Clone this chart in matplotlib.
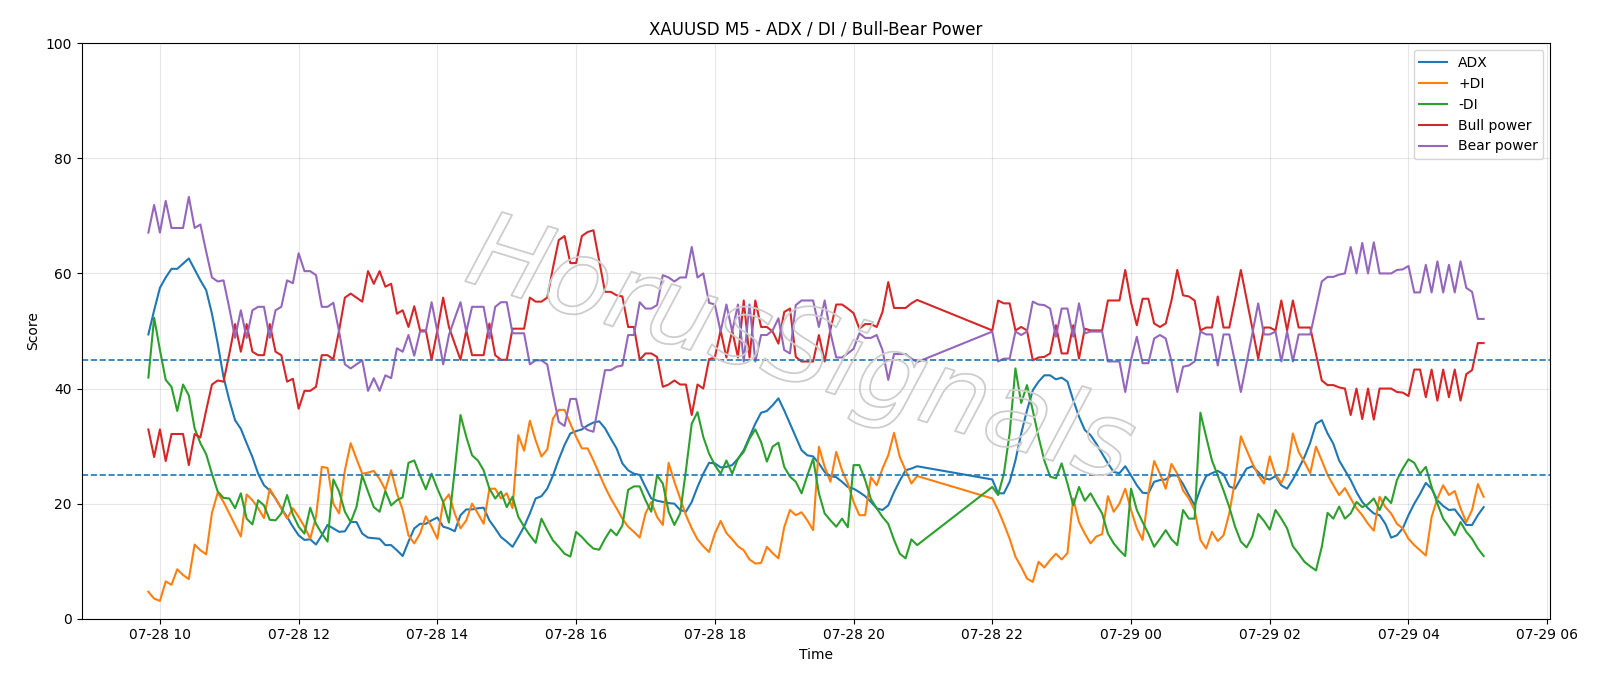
import matplotlib
matplotlib.use("Agg")
import matplotlib.pyplot as plt
import matplotlib.patheffects as pe
import pandas as pd

# two trading sessions of 5-minute bars (market break 21:00-22:00)
times_s1 = pd.date_range("2025-07-28 09:50", "2025-07-28 20:55", freq="5min")
times_s2 = pd.date_range("2025-07-28 22:00", "2025-07-29 05:05", freq="5min")

adx_s1 = [
    49.4, 53.6, 57.5, 59.3, 60.8, 60.8, 61.7, 62.6, 60.7, 58.8,
    57.1, 53.0, 47.8, 42.0, 38.0, 34.5, 33.0, 30.5, 28.1, 25.2,
    23.2, 22.3, 20.9, 19.2, 17.7, 16.0, 14.5, 13.7, 13.8, 12.9,
    14.5, 16.3, 15.7, 15.1, 15.2, 16.8, 16.8, 14.8, 14.1, 14.0,
    13.9, 12.8, 12.8, 11.9, 10.9, 13.4, 15.7, 16.5, 16.5, 17.1,
    17.6, 16.0, 15.7, 15.2, 18.0, 19.0, 19.0, 19.2, 19.3, 17.1,
    15.7, 14.2, 13.4, 12.5, 14.2, 16.0, 18.3, 20.9, 21.3, 22.6,
    24.9, 27.7, 30.2, 32.2, 32.6, 32.9, 33.6, 34.1, 34.3, 33.1,
    31.3, 29.6, 27.0, 25.8, 25.2, 25.0, 22.9, 20.9, 20.5, 20.3,
    20.1, 20.0, 18.9, 18.6, 20.3, 22.9, 25.2, 27.1, 27.0, 26.3,
    26.4, 26.7, 27.8, 29.3, 31.6, 33.9, 35.8, 36.1, 37.1, 38.3,
    36.2, 33.9, 31.6, 29.3, 28.4, 28.2, 27.0, 25.5, 24.8, 24.6,
    23.8, 22.9, 22.6, 22.0, 21.3, 20.3, 19.2, 18.9, 19.7, 22.0,
    24.0, 25.8, 26.1, 26.5,
]
adx_s2 = [
    24.2, 21.8, 21.8, 23.8, 27.5, 32.2, 36.2, 39.7, 41.2, 42.3,
    42.3, 41.6, 41.9, 41.2, 38.0, 35.1, 32.8, 31.9, 30.4, 28.7,
    27.0, 25.5, 25.3, 26.5, 24.9, 23.2, 21.9, 21.8, 23.8, 24.1,
    24.2, 24.9, 24.9, 23.4, 21.5, 19.7, 22.6, 24.8, 25.3, 25.7,
    25.1, 23.0, 22.6, 24.4, 26.1, 26.5, 25.5, 24.4, 24.2, 24.8,
    23.2, 22.6, 24.2, 26.1, 28.1, 30.6, 33.9, 34.5, 32.2, 30.4,
    27.5, 25.8, 24.1, 22.0, 20.3, 19.2, 18.3, 18.0, 16.5, 14.1,
    14.5, 15.7, 18.0, 20.0, 21.7, 23.6, 22.6, 20.6, 19.6, 18.9,
    19.0, 17.7, 16.3, 16.3, 18.0, 19.4,
]

plus_di_s1 = [
    4.7, 3.5, 3.1, 6.5, 5.9, 8.6, 7.6, 6.9, 12.9, 11.9,
    11.2, 18.4, 21.9, 20.3, 18.3, 16.3, 14.3, 21.6, 20.6, 19.2,
    17.5, 22.6, 20.9, 19.2, 17.4, 19.2, 17.7, 16.0, 13.9, 17.7,
    26.4, 26.2, 20.0, 18.3, 25.8, 30.5, 27.8, 25.2, 25.4, 25.7,
    24.3, 22.4, 25.8, 21.8, 18.9, 14.5, 13.1, 14.8, 17.8, 16.0,
    13.9, 20.3, 21.6, 18.3, 15.7, 17.1, 20.0, 18.3, 16.5, 22.6,
    22.6, 20.9, 21.8, 19.2, 31.9, 29.2, 34.4, 31.0, 28.2, 29.4,
    34.8, 36.3, 36.3, 33.9, 31.6, 29.6, 29.6, 27.5, 25.2, 22.9,
    20.9, 19.2, 17.4, 16.0, 15.1, 14.1, 18.3, 20.3, 17.7, 16.3,
    27.1, 23.8, 20.9, 18.0, 15.7, 13.8, 12.6, 11.6, 14.8, 17.0,
    14.9, 13.8, 12.6, 11.9, 10.3, 9.6, 9.7, 12.5, 11.4, 10.5,
    15.9, 18.9, 18.0, 18.5, 17.1, 15.4, 29.9, 26.4, 23.8, 29.0,
    25.8, 23.5, 20.3, 18.0, 18.0, 24.6, 23.2, 26.1, 28.4, 32.3,
    28.1, 25.8, 23.5, 24.8,
]
plus_di_s2 = [
    20.9, 18.9, 16.5, 13.9, 10.8, 9.0, 7.0, 6.4, 9.9, 8.9,
    10.2, 11.3, 10.3, 11.4, 20.9, 16.8, 14.8, 13.1, 14.3, 14.7,
    21.3, 18.6, 20.0, 22.6, 18.9, 15.7, 13.7, 21.8, 27.4, 25.2,
    22.6, 26.9, 25.2, 22.3, 20.9, 18.9, 13.7, 12.2, 15.1, 13.5,
    14.5, 18.3, 24.1, 31.7, 29.3, 27.0, 25.0, 23.5, 28.2, 25.0,
    23.6, 25.8, 32.2, 29.0, 27.2, 25.3, 29.9, 27.5, 25.0, 23.2,
    21.5, 22.7, 20.9, 19.2, 18.0, 16.5, 15.3, 21.2, 19.4, 18.3,
    16.5, 15.7, 13.9, 12.8, 11.9, 11.0, 17.7, 20.9, 23.2, 21.5,
    22.2, 19.2, 16.8, 18.9, 23.4, 21.2,
]

minus_di_s1 = [
    41.9, 52.3, 46.7, 41.5, 40.3, 36.1, 40.7, 38.8, 33.1, 30.5,
    28.6, 25.2, 22.1, 21.0, 20.9, 19.2, 21.8, 17.4, 16.4, 20.6,
    19.7, 17.2, 17.1, 18.3, 21.5, 18.1, 16.0, 14.8, 19.3, 16.5,
    14.8, 13.4, 24.2, 22.1, 18.6, 16.8, 19.4, 24.9, 22.1, 19.4,
    18.6, 22.2, 19.7, 20.6, 21.1, 27.1, 27.5, 24.9, 22.5, 25.2,
    22.6, 20.3, 16.7, 25.8, 35.4, 31.6, 28.4, 27.5, 25.8, 22.6,
    20.9, 22.1, 19.4, 21.2, 17.7, 16.0, 14.5, 13.2, 17.4, 15.4,
    13.6, 12.5, 11.3, 10.8, 15.1, 14.2, 13.1, 12.2, 12.0, 13.9,
    15.5, 14.5, 16.2, 22.4, 23.0, 23.0, 20.6, 18.6, 24.9, 23.5,
    18.6, 16.3, 18.3, 25.8, 33.9, 35.9, 31.6, 28.7, 26.7, 25.2,
    27.5, 25.2, 27.8, 29.0, 31.3, 32.9, 30.7, 27.3, 29.9, 30.6,
    26.4, 24.7, 23.8, 21.8, 24.9, 27.8, 21.8, 18.3, 17.1, 16.0,
    17.4, 15.9, 26.7, 26.7, 24.1, 20.8, 19.2, 17.7, 16.5, 13.7,
    11.3, 10.5, 13.8, 12.8,
]
minus_di_s2 = [
    22.9, 21.5, 25.2, 32.2, 43.5, 37.5, 40.6, 36.2, 31.6, 27.5,
    24.7, 24.4, 27.0, 23.5, 19.7, 22.9, 20.5, 21.8, 20.0, 18.3,
    14.8, 13.1, 11.9, 10.9, 22.6, 18.9, 16.8, 14.8, 12.5, 13.9,
    15.4, 13.8, 12.8, 18.9, 17.4, 17.4, 35.8, 31.6, 27.5, 24.9,
    22.3, 19.4, 16.0, 13.4, 12.4, 14.3, 18.2, 17.0, 15.5, 18.9,
    17.4, 15.7, 12.6, 11.3, 9.9, 9.1, 8.4, 12.5, 18.4, 17.4,
    19.5, 17.4, 18.3, 20.3, 19.4, 19.9, 20.9, 18.9, 21.2, 20.1,
    24.1, 26.1, 27.7, 27.1, 25.2, 26.4, 22.9, 20.0, 17.4, 16.0,
    14.5, 16.8, 15.1, 13.9, 12.2, 10.9,
]

bull_s1 = [
    32.9, 28.1, 32.9, 27.4, 32.1, 32.1, 32.1, 26.7, 32.1, 31.5,
    36.2, 40.7, 41.4, 41.2, 46.0, 51.2, 46.4, 51.2, 46.4, 45.8,
    45.8, 51.2, 46.4, 45.8, 41.2, 41.7, 36.5, 39.6, 39.6, 40.3,
    45.8, 45.8, 45.1, 50.1, 55.8, 56.5, 55.8, 55.1, 60.4, 58.2,
    60.4, 57.7, 58.2, 53.0, 53.6, 50.7, 54.3, 50.1, 50.1, 45.0,
    50.1, 55.8, 50.7, 47.8, 45.0, 50.1, 45.8, 45.8, 45.8, 51.3,
    45.8, 45.0, 45.0, 50.4, 50.4, 50.4, 55.8, 55.1, 55.1, 55.8,
    61.0, 65.8, 66.5, 61.8, 61.8, 66.5, 67.2, 67.5, 62.2, 56.8,
    56.8, 56.2, 56.0, 50.7, 50.7, 45.0, 46.1, 46.1, 45.5, 40.3,
    40.7, 41.4, 40.7, 40.7, 35.4, 40.7, 40.0, 45.1, 45.4, 50.1,
    45.4, 50.1, 45.4, 55.3, 45.4, 55.3, 50.7, 50.7, 49.9, 47.8,
    53.3, 53.9, 45.5, 44.7, 44.7, 44.7, 49.3, 44.7, 50.3, 54.6,
    54.6, 53.9, 53.1, 50.4, 51.2, 51.2, 50.7, 53.3, 58.5, 54.0,
    54.0, 54.0, 54.8, 55.4,
]
bull_s2 = [
    50.1, 55.3, 54.8, 54.8, 50.1, 50.7, 50.1, 44.9, 45.4, 45.5,
    46.1, 51.0, 46.1, 46.1, 51.0, 45.2, 50.4, 50.1, 50.1, 50.1,
    55.3, 55.3, 55.3, 60.6, 55.0, 51.0, 55.6, 55.6, 51.3, 50.7,
    51.3, 55.3, 60.6, 56.2, 56.0, 55.3, 50.1, 50.6, 50.6, 56.0,
    50.6, 50.6, 55.5, 60.6, 55.5, 50.4, 45.2, 50.6, 50.6, 50.1,
    55.3, 50.1, 55.3, 50.6, 50.6, 50.6, 46.0, 41.4, 40.6, 40.6,
    40.2, 40.0, 35.4, 40.0, 34.7, 40.0, 34.6, 40.0, 40.0, 40.0,
    39.4, 39.3, 38.7, 43.3, 43.3, 38.5, 43.3, 37.9, 43.3, 38.5,
    43.3, 37.9, 42.5, 43.2, 47.9, 47.9,
]

bear_s1 = [
    67.1, 71.9, 67.1, 72.6, 67.9, 67.9, 67.9, 73.3, 67.9, 68.5,
    63.8, 59.3, 58.6, 58.8, 54.0, 48.8, 53.6, 48.8, 53.6, 54.2,
    54.2, 48.8, 53.6, 54.2, 58.8, 58.3, 63.5, 60.4, 60.4, 59.7,
    54.2, 54.2, 54.9, 49.9, 44.2, 43.5, 44.2, 44.9, 39.6, 41.8,
    39.6, 42.3, 41.8, 47.0, 46.4, 49.3, 45.7, 49.9, 49.9, 55.0,
    49.9, 44.2, 49.3, 52.2, 55.0, 49.9, 54.2, 54.2, 54.2, 48.7,
    54.2, 55.0, 55.0, 49.6, 49.6, 49.6, 44.2, 44.9, 44.9, 44.2,
    39.0, 34.2, 33.5, 38.2, 38.2, 33.5, 32.8, 32.5, 37.8, 43.2,
    43.2, 43.8, 44.0, 49.3, 49.3, 55.0, 53.9, 53.9, 54.5, 59.7,
    59.3, 58.6, 59.3, 59.3, 64.6, 59.3, 60.0, 54.9, 54.6, 49.9,
    54.6, 49.9, 54.6, 44.7, 54.6, 44.7, 49.3, 49.3, 50.1, 52.2,
    46.7, 46.1, 54.5, 55.3, 55.3, 55.3, 50.7, 55.3, 49.7, 45.4,
    45.4, 46.1, 46.9, 49.6, 48.8, 48.8, 49.3, 46.7, 41.5, 46.0,
    46.0, 46.0, 45.2, 44.6,
]
bear_s2 = [
    49.9, 44.7, 45.2, 45.2, 49.9, 49.3, 49.9, 55.1, 54.6, 54.5,
    53.9, 49.0, 53.9, 53.9, 49.0, 54.8, 49.6, 49.9, 49.9, 49.9,
    44.7, 44.7, 44.7, 39.4, 45.0, 49.0, 44.4, 44.4, 48.7, 49.3,
    48.7, 44.7, 39.4, 43.8, 44.0, 44.7, 49.9, 49.4, 49.4, 44.0,
    49.4, 49.4, 44.5, 39.4, 44.5, 49.6, 54.8, 49.4, 49.4, 49.9,
    44.7, 49.9, 44.7, 49.4, 49.4, 49.4, 54.0, 58.6, 59.4, 59.4,
    59.8, 60.0, 64.6, 60.0, 65.3, 60.0, 65.4, 60.0, 60.0, 60.0,
    60.6, 60.7, 61.3, 56.7, 56.7, 61.5, 56.7, 62.1, 56.7, 61.5,
    56.7, 62.1, 57.5, 56.8, 52.1, 52.1,
]

adx_strong = 45
adx_trend = 25

times = times_s1.append(times_s2)
series = [
    ("ADX", adx_s1 + adx_s2),
    ("+DI", plus_di_s1 + plus_di_s2),
    ("-DI", minus_di_s1 + minus_di_s2),
    ("Bull power", bull_s1 + bull_s2),
    ("Bear power", bear_s1 + bear_s2),
]

fig, ax = plt.subplots(figsize=(16, 6.86), dpi=100)
fig.subplots_adjust(left=0.051, right=0.969, top=0.937, bottom=0.098)

for label, values in series:
    ax.plot(times, values, label=label, lw=1.5)

ax.axhline(adx_strong, linestyle="--", lw=1.2)
ax.axhline(adx_trend, linestyle="--", lw=1.2)

ax.set_ylim(0, 100)
ax.set_title("XAUUSD M5 - ADX / DI / Bull-Bear Power", fontsize=12)
ax.set_xlabel("Time")
ax.set_ylabel("Score")
ax.grid(alpha=0.3)
ax.legend(loc="upper right")

# hollow watermark across the plot
fig.text(
    0.5, 0.485, "HorusSignals",
    fontsize=76, rotation=-17, ha="center", va="center",
    color="none", style="italic", zorder=10,
    path_effects=[pe.withStroke(linewidth=1.3, foreground="#cdcdcd")],
)

fig.savefig("out.png", dpi=100)
